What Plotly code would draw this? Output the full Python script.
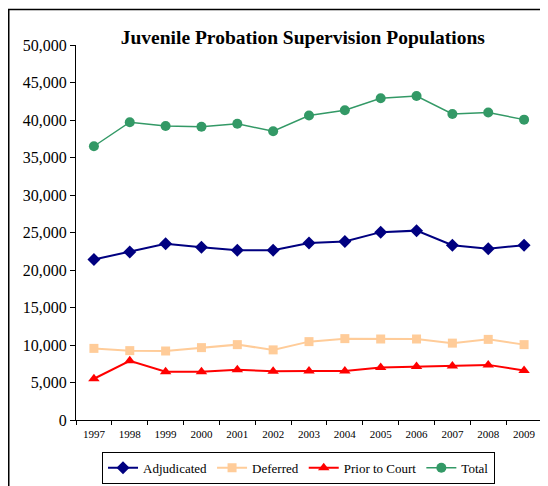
import plotly.graph_objects as go

YEARS = ['1997', '1998', '1999', '2000', '2001', '2002', '2003',
         '2004', '2005', '2006', '2007', '2008', '2009']

ADJUDICATED = [21400, 22400, 23500, 23050, 22650, 22650, 23600,
               23800, 25050, 25250, 23300, 22850, 23300]
DEFERRED = [9550, 9250, 9200, 9650, 10050, 9350, 10450,
            10850, 10800, 10800, 10250, 10750, 10050]
PRIOR_TO_COURT = [5500, 7900, 6450, 6450, 6700, 6500, 6550,
                  6550, 7000, 7150, 7200, 7350, 6600]
TOTAL = [36500, 39700, 39200, 39100, 39500, 38500, 40600,
         41300, 42900, 43200, 40800, 41000, 40050]

SERIES = [
    ('Adjudicated', ADJUDICATED, '#000080', 'diamond', 10, 2),
    ('Deferred', DEFERRED, '#FFCC99', 'square', 9, 2),
    ('Prior to Court', PRIOR_TO_COURT, '#FF0000', 'triangle-up', 10, 2),
    ('Total', TOTAL, '#339966', 'circle', 10, 1.5),
]

FONT = 'Liberation Serif, Times New Roman, serif'


def plot_data():
    fig = go.Figure()
    for name, values, color, symbol, size, width in SERIES:
        fig.add_trace(go.Scatter(
            x=YEARS,
            y=values,
            name=name,
            mode='lines+markers',
            line=dict(color=color, width=width),
            marker=dict(color=color, symbol=symbol, size=size),
        ))

    # the page body has an 8px margin, so the figure is a bit smaller
    fig.update_layout(
        width=540,
        height=478,
        margin=dict(l=68, r=6, t=37, b=66, autoexpand=False),
        paper_bgcolor='white',
        plot_bgcolor='white',
        font=dict(family=FONT, color='black'),
        title=dict(
            text='<b>Juvenile Probation Supervision Populations</b>',
            x=0.546, y=0.94, xanchor='center', yanchor='middle',
            font=dict(size=19.5, family=FONT, color='black'),
        ),
        showlegend=True,
        legend=dict(
            orientation='h',
            xref='container', yref='container',
            x=0.538, y=0.038, xanchor='center', yanchor='middle',
            bordercolor='black', borderwidth=1,
            font=dict(size=13, family=FONT),
            itemwidth=30,
            tracegroupgap=0,
        ),
        shapes=[dict(
            type='rect', xref='paper', yref='paper',
            x0=-0.1443, x1=1.2, y0=-0.4, y1=1.095,
            line=dict(color='black', width=1.5),
            fillcolor='rgba(0,0,0,0)',
        )],
    )
    fig.update_xaxes(
        type='category',
        range=[-0.5, 12.5],
        showline=True, linecolor='black', linewidth=1,
        ticks='outside', tickson='boundaries', ticklen=4,
        ticklabelstandoff=4, automargin=False,
        tickcolor='black', showgrid=False, zeroline=False,
        tickfont=dict(size=11, family=FONT),
    )
    fig.update_yaxes(
        range=[0, 50000], dtick=5000, tickformat=',',
        showline=True, linecolor='black', linewidth=1,
        ticks='outside', ticklen=5, tickcolor='black',
        automargin=False,
        showgrid=False, zeroline=False,
        tickfont=dict(size=16, family=FONT),
    )
    fig.write_html('out.html')


if __name__ == '__main__':
    plot_data()
